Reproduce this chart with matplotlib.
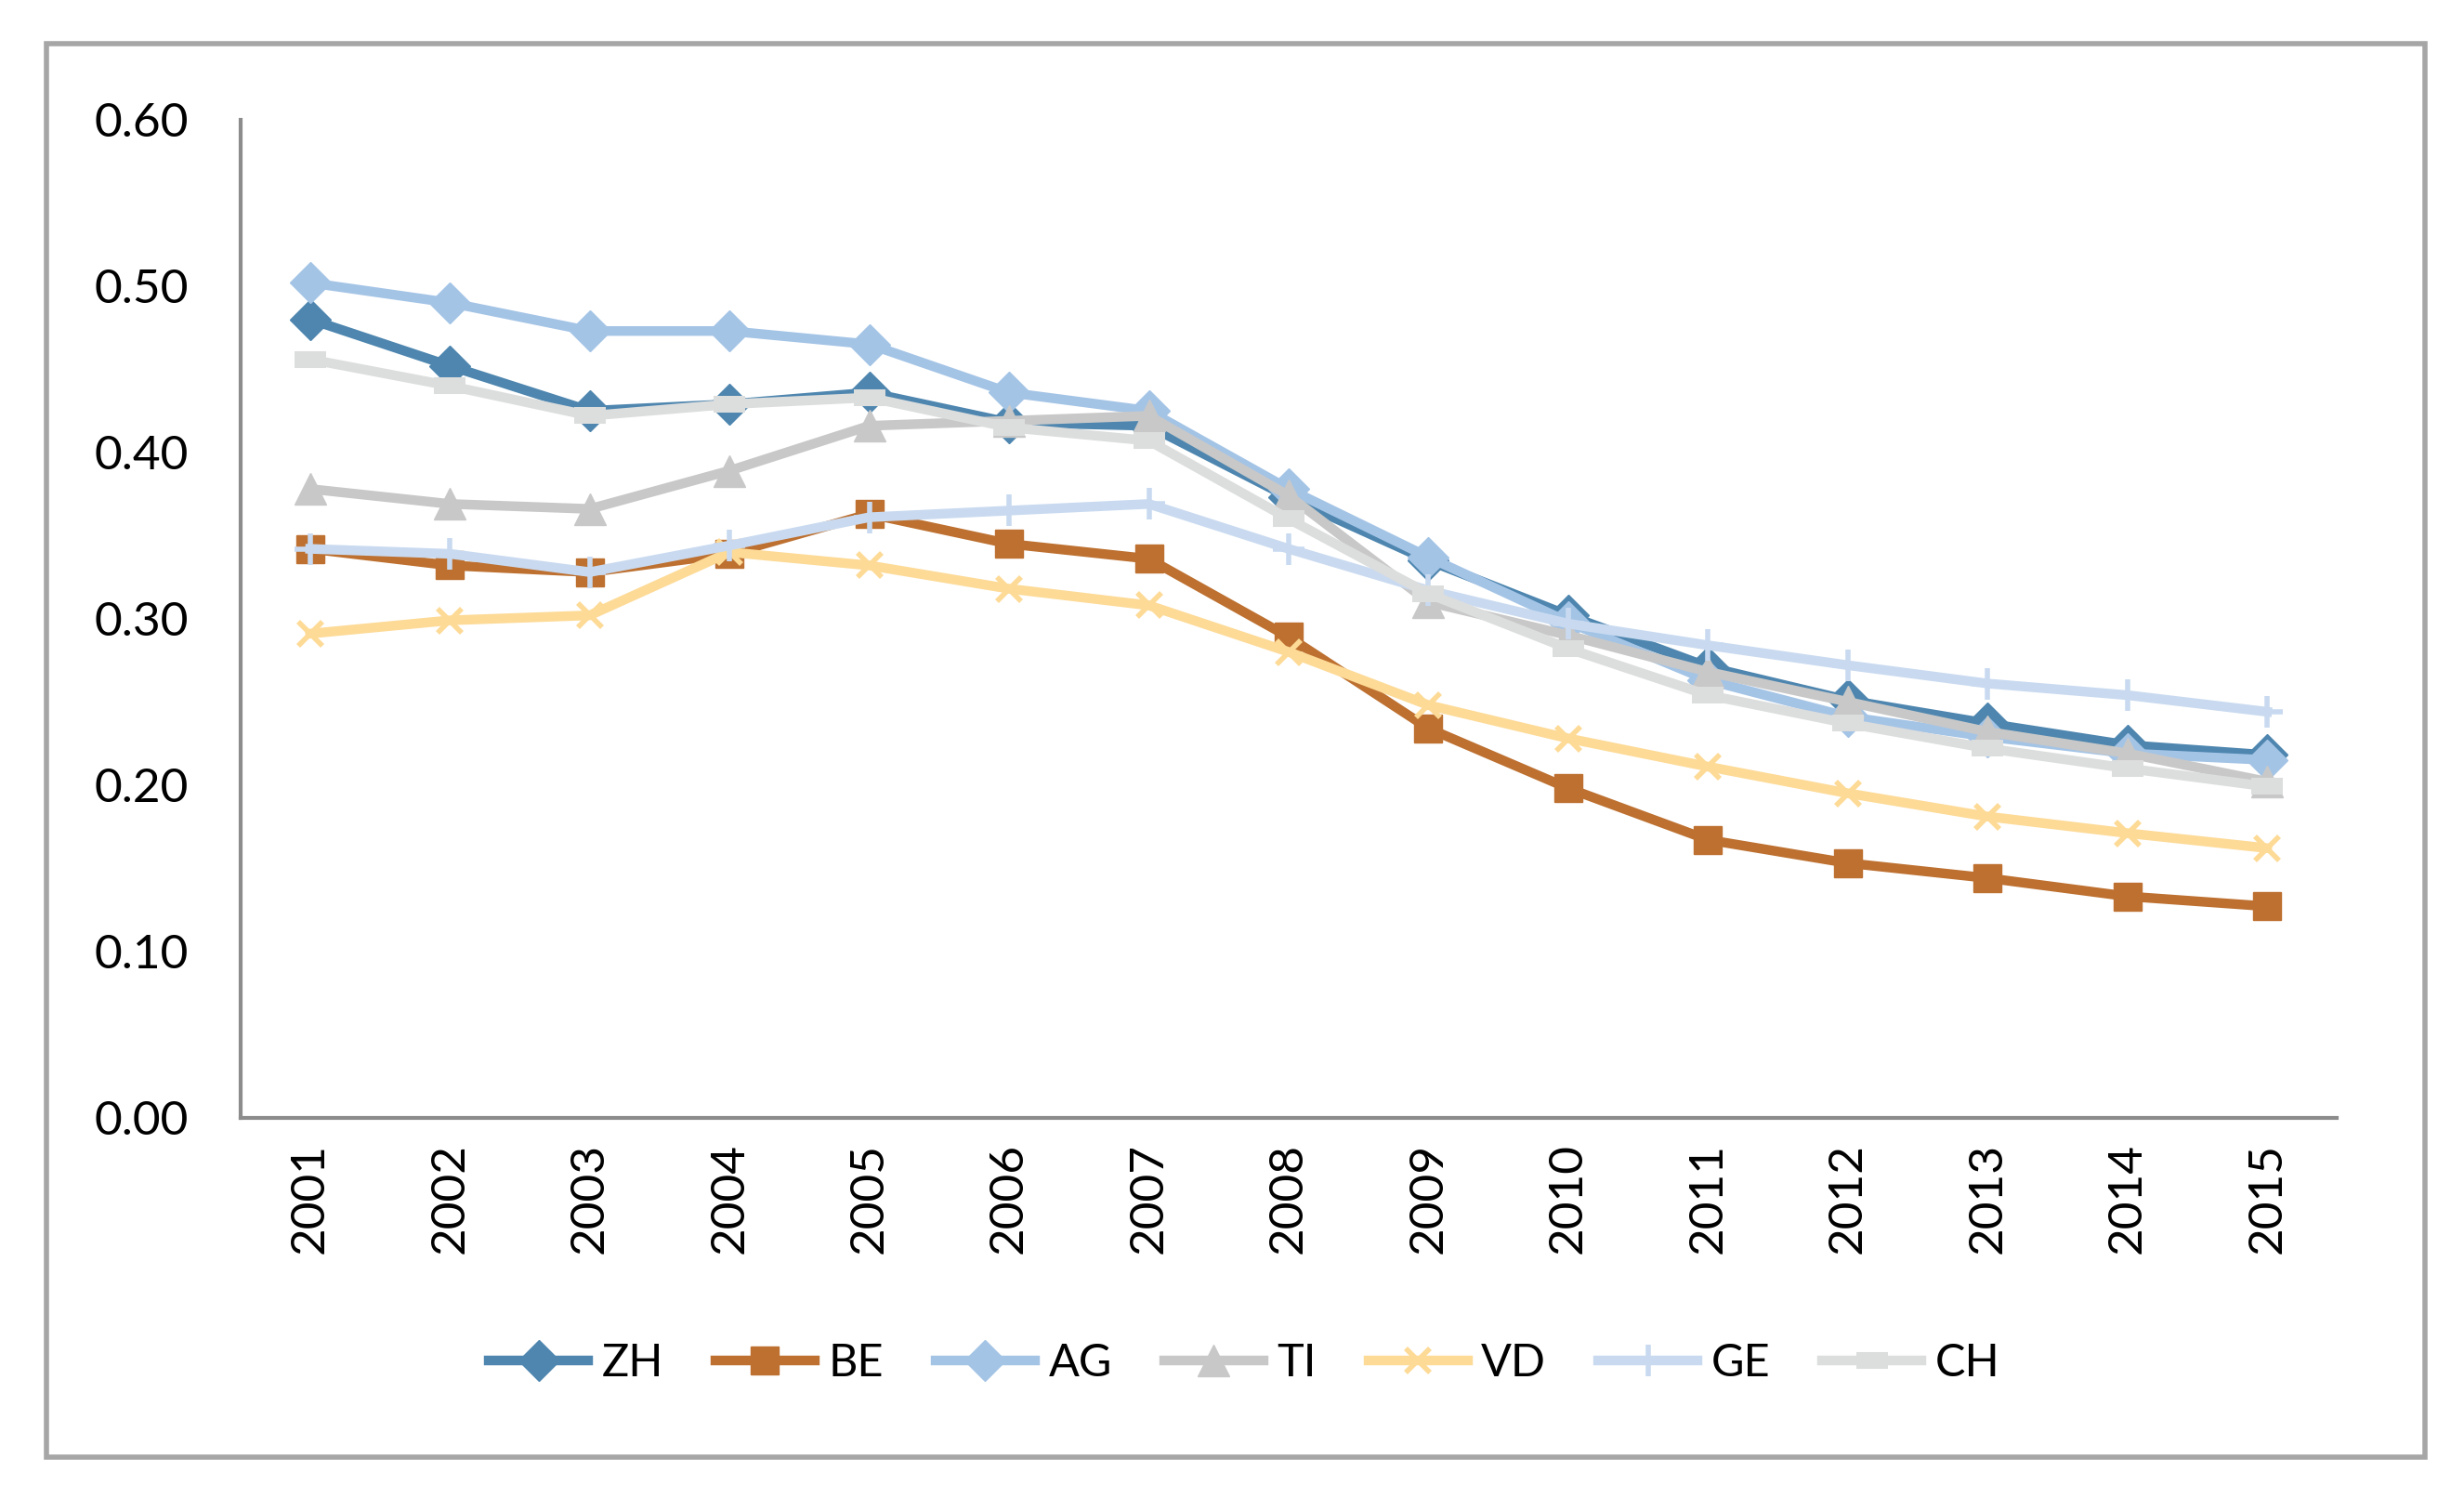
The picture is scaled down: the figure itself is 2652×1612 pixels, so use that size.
import matplotlib
matplotlib.use("Agg")
import matplotlib.pyplot as plt
from matplotlib.patches import Rectangle

years = [str(y) for y in range(2001, 2016)]

zh = [0.480, 0.452, 0.425, 0.429, 0.436, 0.418, 0.416, 0.373, 0.335, 0.302, 0.271, 0.251, 0.237, 0.224, 0.218]
be = [0.342, 0.332, 0.328, 0.339, 0.363, 0.345, 0.336, 0.289, 0.234, 0.198, 0.167, 0.153, 0.144, 0.133, 0.127]
ag = [0.502, 0.490, 0.473, 0.473, 0.465, 0.436, 0.425, 0.378, 0.337, 0.298, 0.263, 0.241, 0.229, 0.219, 0.215]
ti = [0.378, 0.369, 0.366, 0.389, 0.416, 0.419, 0.422, 0.374, 0.310, 0.290, 0.268, 0.250, 0.232, 0.219, 0.202]
vd = [0.291, 0.299, 0.302, 0.340, 0.332, 0.318, 0.308, 0.280, 0.248, 0.228, 0.211, 0.195, 0.181, 0.171, 0.162]
ge = [0.342, 0.339, 0.328, 0.344, 0.361, 0.365, 0.369, 0.342, 0.317, 0.297, 0.284, 0.272, 0.261, 0.254, 0.244]
ch = [0.456, 0.440, 0.422, 0.429, 0.433, 0.415, 0.407, 0.360, 0.315, 0.282, 0.254, 0.237, 0.222, 0.210, 0.199]

yticks = [0.0, 0.1, 0.2, 0.3, 0.4, 0.5, 0.6]

plt.rcParams['font.family'] = ['Lato', 'DejaVu Sans']

fig = plt.figure(figsize=(26.52, 16.12), dpi=100)
fig.patches.append(Rectangle((0.019, 0.027), 0.965, 0.944, transform=fig.transFigure,
                             fill=False, edgecolor='#a6a6a6', linewidth=4))

ax = fig.add_axes([0.0975, 0.254, 0.851, 0.666])

series = [
    ('ZH', zh, '#4e86af', 'D', 22, {}),
    ('BE', be, '#bd7030', 's', 21, {}),
    ('AG', ag, '#a4c4e6', 'D', 22, {}),
    ('TI', ti, '#c8c8c8', '^', 24, {}),
    ('VD', vd, '#fdda96', 'x', 19, {'markeredgewidth': 4}),
    ('GE', ge, '#c9daf0', '+', 24, {'markeredgewidth': 4}),
    ('CH', ch, '#dcdddd', '_', 24, {'markeredgewidth': 13}),
]

x = range(len(years))
for name, vals, color, mk, ms, extra in series:
    ax.plot(x, vals, color=color, linewidth=7.5, marker=mk, markersize=ms,
            markerfacecolor=color, markeredgecolor=color, label=name, **extra)

ax.set_xlim(-0.5, len(years) - 0.5)
ax.set_ylim(0, 0.6)
ax.set_yticks(yticks)
ax.set_yticklabels([f"{v:.2f}" for v in yticks])
ax.set_xticks(list(x))
ax.set_xticklabels(years, rotation=90)
ax.tick_params(axis='both', length=0, labelsize=37, colors='black')
ax.tick_params(axis='x', pad=20)
ax.tick_params(axis='y', pad=40)

for side in ['top', 'right']:
    ax.spines[side].set_visible(False)
for side in ['left', 'bottom']:
    ax.spines[side].set_color('#8c8c8c')
    ax.spines[side].set_linewidth(3)

fig.legend(loc='center', bbox_to_anchor=(0.505, 0.09), ncol=7, frameon=False,
           fontsize=35, handlelength=2.2, columnspacing=1.15, handletextpad=0.3)

fig.savefig('out.png', dpi=100)
